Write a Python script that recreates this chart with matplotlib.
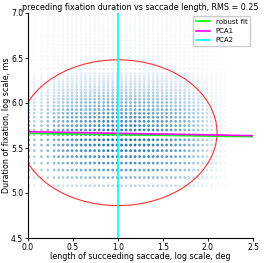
import numpy as np
import matplotlib
matplotlib.use("Agg")
import matplotlib.pyplot as plt
from matplotlib.patches import Ellipse

# y levels: log fixation duration (rows of the scatter)
y_levels = [5.081, 5.172, 5.255, 5.332, 5.404, 5.470, 5.533, 5.591, 5.647, 5.700,
            5.749, 5.797, 5.842, 5.886, 5.927, 5.967, 6.006, 6.043, 6.078, 6.113,
            6.146, 6.178, 6.210, 6.240, 6.269, 6.298, 6.33, 6.38, 6.43, 6.48,
            6.52, 6.57, 6.61, 6.65, 6.69, 6.73, 6.76, 6.80, 6.83, 6.86, 6.89,
            6.92, 6.95, 6.98]
y_weights = [0.3, 0.55, 0.7, 0.8, 0.9, 0.95, 1.0, 1.0, 1.0, 0.95,
             0.9, 0.85, 0.8, 0.72, 0.66, 0.6, 0.55, 0.48, 0.42, 0.36,
             0.31, 0.27, 0.23, 0.2, 0.17, 0.15, 0.13, 0.11, 0.1, 0.09,
             0.085, 0.08, 0.075, 0.07, 0.065, 0.06, 0.055, 0.05, 0.05, 0.045, 0.045,
             0.04, 0.04, 0.035]

# x levels: log saccade length (columns of the scatter)
x_levels = [0.01, 0.07, 0.15, 0.22, 0.29, 0.34, 0.39, 0.44, 0.49, 0.54,
            0.59, 0.64, 0.69, 0.74, 0.79, 0.84, 0.89, 0.94, 0.99, 1.04,
            1.09, 1.14, 1.19, 1.24, 1.29, 1.34, 1.39, 1.44, 1.49, 1.54,
            1.59, 1.64, 1.69, 1.74, 1.79, 1.84, 1.89, 1.94, 1.99, 2.04,
            2.09, 2.14, 2.19]
x_weights = [0.6, 0.4, 0.45, 0.55, 0.6, 0.65, 0.7, 0.75, 0.8, 0.8,
             0.85, 0.85, 0.9, 0.9, 0.95, 0.95, 1.0, 1.0, 1.0, 1.0,
             1.0, 1.0, 1.0, 0.95, 0.95, 0.95, 0.9, 0.9, 0.85, 0.85,
             0.8, 0.75, 0.7, 0.65, 0.6, 0.5, 0.45, 0.38, 0.3, 0.23,
             0.16, 0.1, 0.06]

# fitted lines (value at x=0 and x=2.5)
line_x = [0.0, 2.5]
robust_y = [5.663, 5.626]
pca1_y = [5.681, 5.637]
pca2_x = 1.0
ell_center = (1.0, 5.67)
ell_width = 2.2
ell_height = 1.62

title = "preceding fixation duration vs saccade length, RMS = 0.25"
xlabel = "length of succeeding saccade, log scale, deg"
ylabel = "Duration of fixation, log scale, ms"

fig = plt.figure(figsize=(2.65, 2.63), dpi=100)
ax = fig.add_axes([28/265, 25/263, 225/265, 225/263])

X, Y = np.meshgrid(x_levels, y_levels)
A = np.outer(y_weights, x_weights)
cols = np.zeros((A.size, 4))
cols[:, 0] = 31/255
cols[:, 1] = 119/255
cols[:, 2] = 180/255
cols[:, 3] = np.clip(A.ravel(), 0, 1)
ax.scatter(X.ravel(), Y.ravel(), s=4.0, c=cols, marker='o', linewidths=0)

ax.plot(line_x, robust_y, color='#00ff00', lw=1.2, label='robust fit')
ax.plot(line_x, pca1_y, color='#ff00ff', lw=1.2, label='PCA1')
ax.plot([pca2_x, pca2_x], [4.5, 7.0], color='#00ffff', lw=1.2, label='PCA2')
ax.add_patch(Ellipse(ell_center, ell_width, ell_height, fill=False,
                     edgecolor='red', lw=0.8, alpha=0.8))

ax.set_xlim(0, 2.5)
ax.set_ylim(4.5, 7.0)
ax.set_xticks([0.0, 0.5, 1.0, 1.5, 2.0, 2.5])
ax.set_yticks([4.5, 5.0, 5.5, 6.0, 6.5, 7.0])
ax.tick_params(labelsize=5.5, length=2.5, width=0.6, pad=1.0)
for s in ['top', 'right']:
    ax.spines[s].set_visible(False)
for s in ['left', 'bottom']:
    ax.spines[s].set_linewidth(0.8)
ax.set_title(title, fontsize=5.8, pad=2)
ax.set_xlabel(xlabel, fontsize=5.8)
ax.xaxis.set_label_coords(0.5, -0.064)
ax.set_ylabel(ylabel, fontsize=5.8)
ax.yaxis.set_label_coords(-0.075, 0.5)
ax.legend(loc='upper right', fontsize=5, handlelength=2.0, framealpha=1,
          borderaxespad=0.4)

fig.savefig("out.png", dpi=100)
